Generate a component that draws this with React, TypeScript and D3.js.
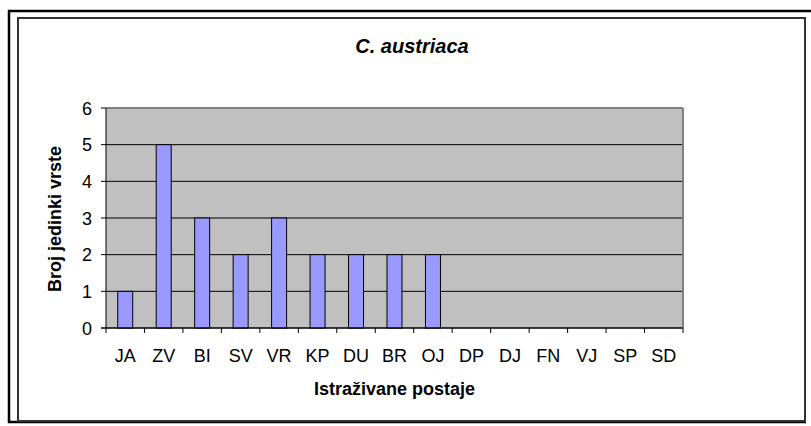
import React from "react";
import * as d3 from "d3";

const categories = ["JA", "ZV", "BI", "SV", "VR", "KP", "DU", "BR", "OJ", "DP", "DJ", "FN", "VJ", "SP", "SD"];
const values = [1, 5, 3, 2, 3, 2, 2, 2, 2, 0, 0, 0, 0, 0, 0];
const yTicks = [0, 1, 2, 3, 4, 5, 6];
const title = "C. austriaca";
const xTitle = "Istraživane postaje";
const yTitle = "Broj jedinki vrste";

export default function App() {
  const W = 811, H = 426;
  const left = 106, right = 683, top = 108, bottom = 328;
  const x = d3.scaleBand<string>().domain(categories).range([left, right]).paddingInner(0.61).paddingOuter(0.305);
  const xb = d3.scaleBand<string>().domain(categories).range([left, right]);
  const y = d3.scaleLinear().domain([0, 6]).range([bottom, top]);
  const font = "Arial, 'Liberation Sans', sans-serif";
  return (
    <svg width={W} height={H} style={{ position: "absolute", left: 0, top: 0 }}>
      <rect x={0} y={0} width={W} height={H} fill="#fff" />
      {/* outer frame */}
      <line x1={9} y1={10} x2={9} y2={423} stroke="#000" strokeWidth={2.5} />
      <line x1={8} y1={11} x2={811} y2={11} stroke="#000" strokeWidth={2.5} />
      <line x1={8} y1={422} x2={806} y2={422} stroke="#000" strokeWidth={2.5} />
      {/* inner frame */}
      <rect x={18} y={18} width={787} height={403} fill="none" stroke="#333" strokeWidth={2} />
      <text x={412} y={53} textAnchor="middle" fontFamily={font} fontSize={20} fontWeight="bold" fontStyle="italic">{title}</text>
      {/* plot area */}
      <rect x={left} y={top} width={right - left} height={bottom - top} fill="#C0C0C0" />
      {yTicks.map(t => (
        <line key={"g" + t} x1={left} x2={right} y1={y(t)} y2={y(t)} stroke="#000" strokeWidth={1} />
      ))}
      <line x1={left} x2={right} y1={top} y2={top} stroke="#808080" strokeWidth={2} />
      <line x1={right} x2={right} y1={top} y2={bottom} stroke="#808080" strokeWidth={2} />
      {categories.map((c, i) => values[i] > 0 ? (
        <rect key={c} x={x(c)!} y={y(values[i])} width={x.bandwidth()} height={y(0) - y(values[i])} fill="#9999FF" stroke="#000" strokeWidth={1} />
      ) : null)}
      {/* axes */}
      <line x1={left} x2={left} y1={top} y2={bottom + 5} stroke="#000" strokeWidth={1} />
      <line x1={left - 5} x2={right} y1={bottom} y2={bottom} stroke="#000" strokeWidth={1} />
      {yTicks.map(t => (
        <g key={"t" + t}>
          <line x1={left - 5} x2={left} y1={y(t)} y2={y(t)} stroke="#000" />
          <text x={92} y={y(t) + 6.5} textAnchor="end" fontFamily={font} fontSize={18}>{t}</text>
        </g>
      ))}
      {categories.map((c, i) => (
        <g key={"x" + c}>
          <line x1={xb(c)! + xb.bandwidth()} x2={xb(c)! + xb.bandwidth()} y1={bottom} y2={bottom + 5} stroke="#000" />
          <text x={xb(c)! + xb.bandwidth() / 2} y={362} textAnchor="middle" fontFamily={font} fontSize={18}>{c}</text>
        </g>
      ))}
      <text x={(left + right) / 2} y={395} textAnchor="middle" fontFamily={font} fontSize={18} fontWeight="bold">{xTitle}</text>
      <text transform={`translate(61, ${(top + bottom) / 2 + 1}) rotate(-90)`} textAnchor="middle" fontFamily={font} fontSize={18} fontWeight="bold">{yTitle}</text>
    </svg>
  );
}
